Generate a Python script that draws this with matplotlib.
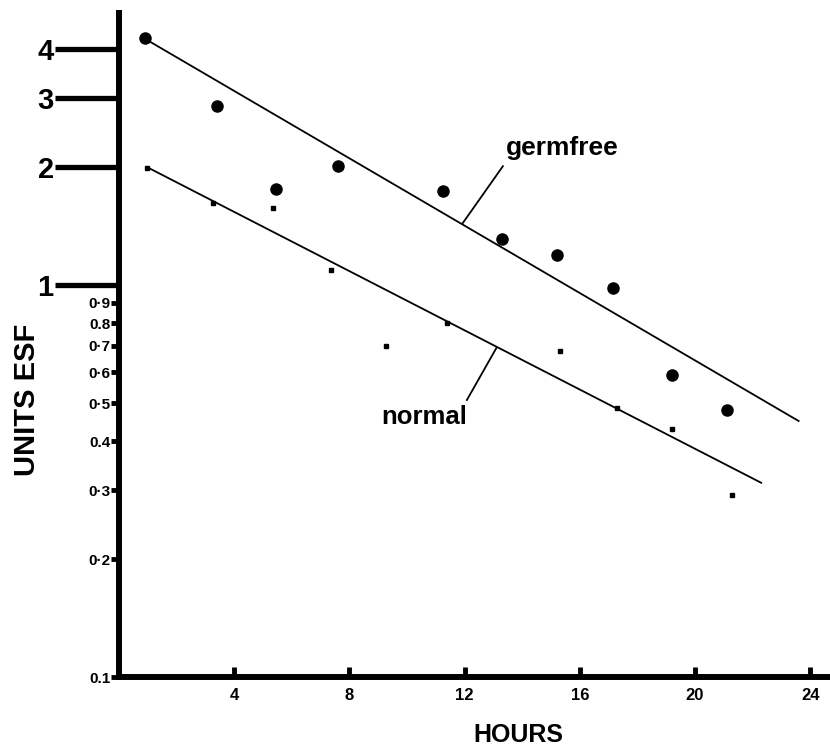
import matplotlib
matplotlib.use("Agg")
import matplotlib.pyplot as plt

# values
hours_germfree = [0.9, 3.4, 5.45, 7.6, 11.25, 13.3, 15.2, 17.15, 19.2, 21.1]
esf_germfree = [4.27, 2.86, 1.76, 2.01, 1.74, 1.31, 1.19, 0.98, 0.59, 0.48]
hours_normal = [0.97, 3.26, 5.35, 7.36, 9.27, 11.4, 15.3, 17.3, 19.2, 21.3]
esf_normal = [1.99, 1.62, 1.57, 1.09, 0.70, 0.80, 0.68, 0.485, 0.43, 0.291]

fit_germfree_x = [0.9, 23.6]
fit_germfree_y = [4.25, 0.45]
fit_normal_x = [0.97, 22.3]
fit_normal_y = [2.0, 0.313]

major_y = [1, 2, 3, 4]
major_labels = ["1", "2", "3", "4"]
minor_y = [0.1, 0.2, 0.3, 0.4, 0.5, 0.6, 0.7, 0.8, 0.9]
minor_labels = ["0.1", "0·2", "0·3", "0.4", "0·5", "0·6", "0·7", "0.8", "0·9"]
x_ticks = [4, 8, 12, 16, 20, 24]

plt.rcParams['font.family'] = ['Liberation Sans', 'DejaVu Sans']
plt.rcParams['font.weight'] = 'bold'

fig = plt.figure(figsize=(8.3, 7.51), dpi=100)
ax = fig.add_axes([0.1434, 0.0985, 0.8566, 0.884])

ax.plot(fit_germfree_x, fit_germfree_y, color='black', lw=1.3)
ax.plot(fit_normal_x, fit_normal_y, color='black', lw=1.3)
ax.plot(hours_germfree, esf_germfree, 'o', color='black', ms=8)
ax.plot(hours_normal, esf_normal, 's', color='black', ms=3.5)

ax.set_yscale('log')
ax.set_xlim(0, 24.69)
ax.set_ylim(0.1, 4.94)

ax.set_yticks(major_y)
ax.set_yticklabels(major_labels)
ax.set_yticks(minor_y, minor=True)
ax.set_yticklabels(minor_labels, minor=True)
ax.tick_params(axis='y', which='major', direction='out', length=46, width=3.8,
               labelsize=21, pad=1)
ax.tick_params(axis='y', which='minor', direction='out', length=6, width=3.5,
               labelsize=11, pad=0)

ax.set_xticks(x_ticks)
ax.set_xticklabels([str(t) for t in x_ticks])
ax.tick_params(axis='x', which='major', direction='in', length=7, width=3.5,
               labelsize=12, pad=8)
ax.tick_params(axis='x', which='minor', bottom=False)

for side in ['top', 'right']:
    ax.spines[side].set_visible(False)
for side in ['left', 'bottom']:
    ax.spines[side].set_linewidth(4.3)
ax.spines['bottom'].set_position(('data', 0.1))

# leader lines and labels
ax.plot([11.94, 13.33], [1.44, 2.01], color='black', lw=1.3)
ax.text(15.4, 2.24, "germfree", fontsize=19, fontweight='bold', ha='center', va='center')
ax.plot([13.1, 12.08], [0.69, 0.509], color='black', lw=1.3)
ax.text(10.6, 0.46, "normal", fontsize=18.5, fontweight='bold', ha='center', va='center')

fig.text(0.032, 0.467, "UNITS ESF", rotation=90, fontsize=21, fontweight='bold',
         ha='center', va='center')
fig.text(0.624, 0.021, "HOURS", fontsize=18, fontweight='bold', ha='center', va='center')

fig.savefig("out.png", dpi=100)
